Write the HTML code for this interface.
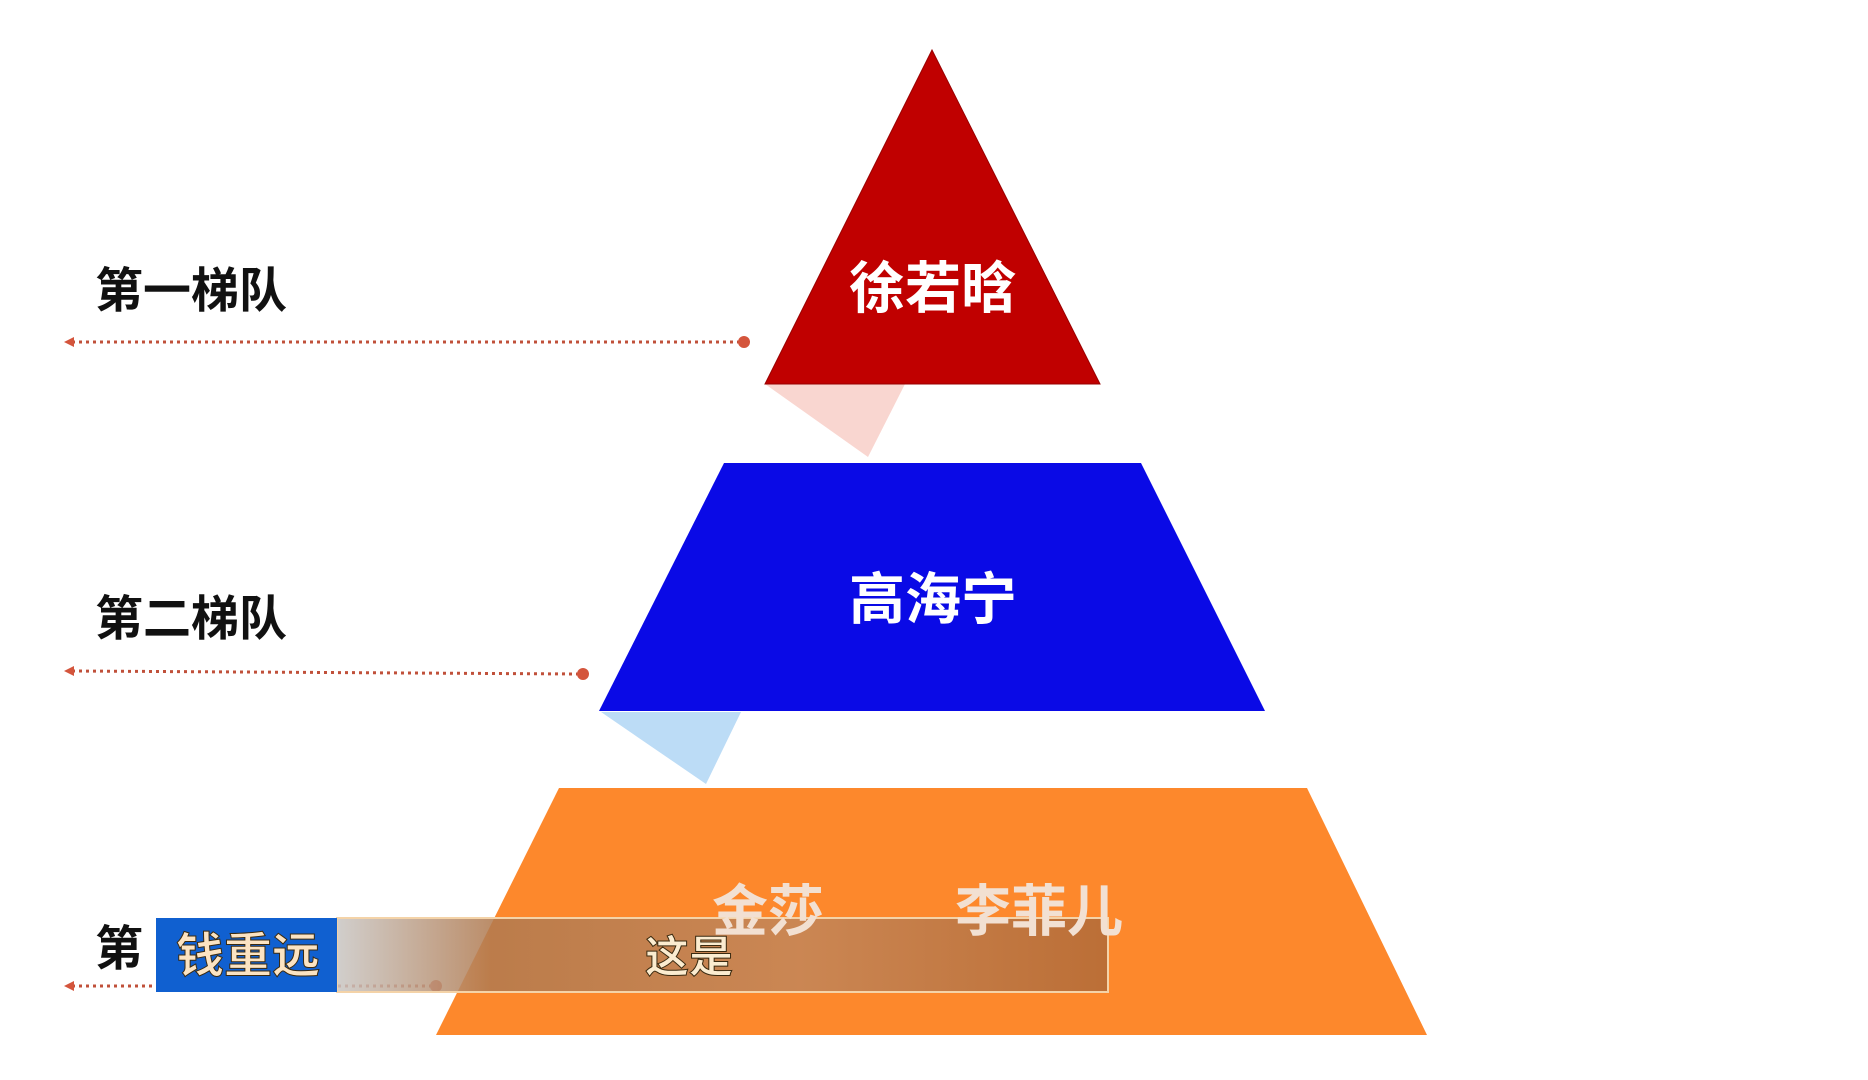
<!DOCTYPE html>
<html><head><meta charset="utf-8"><style>
body{margin:0;width:1868px;height:1080px;background:#fff;overflow:hidden;position:relative;font-family:"Liberation Sans","Noto Sans CJK SC",sans-serif}
.t{position:absolute;font-weight:bold;white-space:nowrap;line-height:1}
</style></head><body>
<svg width="1868" height="1080" style="position:absolute;left:0;top:0">
<polygon points="765,384 905,384 868,457" fill="#f9d6d0"/>
<polygon points="932,50 1100,384 765,384" fill="#c00000" stroke="#900" stroke-width="1"/>
<polygon points="601,712 741,712 706,784" fill="#bcdcf6"/>
<polygon points="724,463 1141,463 1265,711 599,711" fill="#0a0ae6"/>
<polygon points="559,788 1307,788 1427,1035 436,1035" fill="#fd882c"/>
<g stroke="#c0503a" stroke-width="3" stroke-dasharray="3,4">
<line x1="72" y1="342" x2="740" y2="342"/>
<line x1="72" y1="671" x2="578" y2="674"/>
<line x1="72" y1="986" x2="432" y2="986"/>
</g>
<g fill="#d4553c">
<circle cx="744" cy="342" r="6"/><circle cx="583" cy="674" r="6"/><circle cx="436" cy="986" r="6"/>
<polygon points="64,342 74,337 74,347"/><polygon points="64,671 74,666 74,676"/><polygon points="64,986 74,981 74,991"/>
</g>
<defs><linearGradient id="g" x1="0" x2="1"><stop offset="0" stop-color="#c9c6c3"/><stop offset="0.2" stop-color="#b07a50"/><stop offset="0.6" stop-color="#c2865a"/><stop offset="1" stop-color="#b06a38"/></linearGradient></defs>
<rect x="337" y="918" width="771" height="74" fill="url(#g)" fill-opacity="0.85" stroke="#f4d3a8" stroke-width="2"/>
<rect x="156" y="918" width="181" height="74" fill="#1060d0"/>
</svg>
<div class="t" style="left:95px;top:268px;font-size:48px;color:#111">第一梯队</div>
<div class="t" style="left:95px;top:596px;font-size:48px;color:#111">第二梯队</div>
<div class="t" style="left:95px;top:926px;font-size:48px;color:#111">第</div>
<div class="t" style="left:849px;top:261px;font-size:56px;color:#fff">徐若晗</div>
<div class="t" style="left:849px;top:572px;font-size:56px;color:#fff">高海宁</div>
<div class="t" style="left:712px;top:884px;font-size:56px;color:#f2e0d2">金莎</div>
<div class="t" style="left:955px;top:884px;font-size:56px;color:#f2e0d2">李菲儿</div>
<div class="t" style="left:176px;top:933px;font-size:48px;color:#fbe3c2;-webkit-text-stroke:1px #3a2a10">钱重远</div>
<div class="t" style="left:645px;top:936px;font-size:44px;color:#fbecd0;-webkit-text-stroke:1px #3a2a10">这是</div>
</body></html>
